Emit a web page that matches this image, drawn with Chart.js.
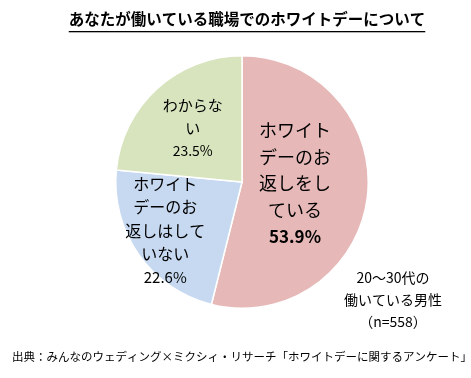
<!DOCTYPE html>
<html>
<head>
<meta charset="utf-8">
<script src="https://cdn.jsdelivr.net/npm/chart.js@4"></script>
<style>
  html, body { margin: 0; padding: 0; background: #fff; }
  #wrap { width: 471px; height: 378px; }
</style>
</head>
<body>
<div id="wrap"><canvas id="myChart" width="471" height="378"></canvas></div>
<script>
    var ctx = document.getElementById('myChart').getContext('2d');

    const titleText = 'あなたが働いている職場でのホワイトデーについて';
    const sourceText = '出典：みんなのウェディング×ミクシィ・リサーチ「ホワイトデーに関するアンケート」';
    const noteLines = ['20～30代の', '働いている男性', '（n=558）'];

    const categories = ['ホワイトデーのお返しをしている', 'ホワイトデーのお返しはしていない', 'わからない'];
    const labelLines = [
        ['ホワイト', 'デーのお', '返しをし', 'ている'],
        ['ホワイト', 'デーのお', '返しはして', 'いない'],
        ['わからな', 'い']
    ];
    const values = [53.9, 22.6, 23.5];
    const colors = ['#e6b9b8', '#c6d9f1', '#d7e4bd'];

    const fontFamily = '"Noto Sans CJK JP", "Noto Sans", sans-serif';

    // label placement per slice: radius fraction, angle shift, font size, line height
    const labelStyle = [
        { r: 0.42, shift: -0.1, size: 18, lh: 26.5, bold: true },
        { r: 0.72, shift: 0.05, size: 16, lh: 23.5, bold: false },
        { r: 0.58, shift: 0.0, size: 15, lh: 22.5, bold: false }
    ];

    const textPlugin = {
        id: 'textPlugin',
        afterDatasetsDraw(chart) {
            const c = chart.ctx;
            c.save();
            c.fillStyle = '#000';
            c.textAlign = 'center';
            c.textBaseline = 'middle';

            // slice labels
            const meta = chart.getDatasetMeta(0);
            meta.data.forEach((arc, i) => {
                const st = labelStyle[i];
                const mid = (arc.startAngle + arc.endAngle) / 2 + st.shift;
                const cx = arc.x + Math.cos(mid) * arc.outerRadius * st.r;
                const cy = arc.y + Math.sin(mid) * arc.outerRadius * st.r;
                const lines = labelLines[i];
                const n = lines.length + 1;
                const y0 = cy - (n - 1) * st.lh / 2;
                c.font = st.size + 'px ' + fontFamily;
                lines.forEach((t, k) => c.fillText(t, cx, y0 + k * st.lh));
                c.font = (st.bold ? 'bold ' : '') + (st.size - 1) + 'px ' + fontFamily;
                c.fillText(values[i].toFixed(1) + '%', cx, y0 + lines.length * st.lh);
            });

            // title
            c.font = 'bold 15.5px ' + fontFamily;
            c.fillText(titleText, 247, 19);
            const w = c.measureText(titleText).width;
            c.fillRect(247 - w / 2, 31, w, 1.3);

            // note
            c.font = '14px ' + fontFamily;
            noteLines.forEach((t, k) => c.fillText(t, 393, 278 + k * 22));

            // source
            c.font = '11.5px ' + fontFamily;
            c.textAlign = 'left';
            c.fillText(sourceText, 12, 357);
            c.restore();
        }
    };

    var pieChart = new Chart(ctx, {
        type: 'pie',
        data: {
            labels: categories,
            datasets: [{
                data: values,
                backgroundColor: colors,
                borderColor: '#ffffff',
                borderWidth: 1.5
            }]
        },
        options: {
            responsive: false,
            animation: false,
            layout: {
                padding: { top: 55, bottom: 69, left: 113, right: 100 }
            },
            plugins: {
                legend: { display: false },
                tooltip: { enabled: false },
                title: { display: false }
            }
        },
        plugins: [textPlugin]
    });
</script>
</body>
</html>
